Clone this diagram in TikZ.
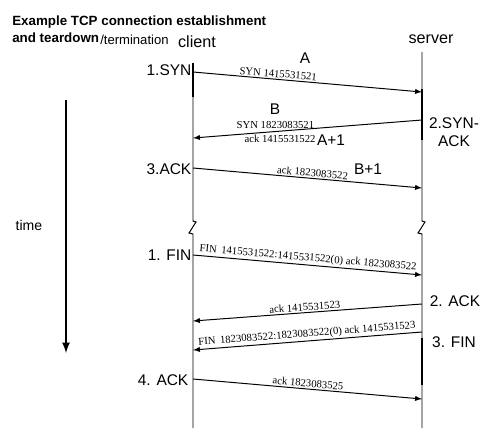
\documentclass[tikz,border=0pt]{standalone}
\usepackage{fontspec}
\setmainfont{Liberation Sans}
\newfontfamily\serifnum{Liberation Serif}
\usetikzlibrary{arrows,positioning}

\begin{document}
\begin{tikzpicture}[
    x=0.025cm, y=-0.025cm,
    font=\fontsize{10}{12}\selectfont,
    ttl/.style={anchor=base west, font=\bfseries\fontsize{9.5}{11}\selectfont, inner sep=0pt},
    host/.style={anchor=base, font=\fontsize{11.5}{13}\selectfont, inner sep=0pt},
    stage/.style={anchor=east, font=\fontsize{11}{13}\selectfont, inner sep=1pt},
    seqno/.style={font=\fontsize{11}{13}\selectfont, inner sep=1pt},
    hdr/.style={font=\serifnum\fontsize{7.6}{9}\selectfont, inner sep=1pt},
    life/.style={black, line width=0.7pt},
    busy/.style={black, line width=1.6pt},
    msg/.style={->, >=latex, black, line width=0.7pt},
]
\useasboundingbox (0,0) rectangle (488,442);
\def\cX{193}
\def\sX{422}

% ---------- title and hosts ----------
\node[ttl] (title1) at (12,25) {Example TCP connection establishment};
\node[ttl] (title2) at (12,42) {and teardown};
\node[anchor=base west, font=\fontsize{9.3}{11}\selectfont, inner sep=0pt] (title3) at (100,44) {/termination};
\node[host] (client) at (\cX+4,47) {client};
\node[host] (server) at (\sX+9,43) {server};

% ---------- lifelines with break ----------
\foreach \lx/\ly in {\cX/63, \sX/52} {
  \draw[life] (\lx,\ly) -- (\lx,221) -- ++(3,1) -- ++(-7,11) -- ++(4,1) -- (\lx,428);
}
\draw[busy] (\cX,63) -- (\cX,97);
\draw[busy] (\sX,89) -- (\sX,140);
\draw[busy] (\sX,338) -- (\sX,385);

% ---------- time ----------
\coordinate (tTop) at (66,100);
\coordinate (tBot) at (66,353);
\draw[->, >=latex, line width=1.5pt] (tTop) -- (tBot);
\node (time) at (29,225) {time};

% ---------- three-way handshake ----------
\coordinate (c1) at (\cX,72);  \coordinate (s1) at (\sX,92);
\coordinate (s2) at (\sX,120); \coordinate (c2) at (\cX,138);
\coordinate (c3) at (\cX,168); \coordinate (s3) at (\sX,188);

\node[stage] (syn) at (\cX,70) {1.SYN};
\draw[msg] (c1) -- node[hdr, above, sloped, pos=0.37] {SYN 1415531521} (s1);
\node[seqno] (numA) at (305,58) {A};

\node[seqno, align=center] (synack) at (454,132) {2.SYN-\\ACK};
\draw[msg] (s2) -- node[hdr, above=1pt, pos=0.64] {SYN 1823083521}
                   node[hdr, below=1.5pt, pos=0.62] {ack 1415531522} (c2);
\node[seqno] (numB) at (275,109) {B};
\node[seqno] (numA1) at (331,140) {A+1};

\node[stage] (ack) at (\cX,169) {3.ACK};
\draw[msg] (c3) -- node[hdr, above, sloped, pos=0.52] {ack 1823083522} (s3);
\node[seqno] (numB1) at (368,169) {B+1};

% ---------- teardown ----------
\coordinate (c4) at (\cX,255); \coordinate (s4) at (\sX,275);
\coordinate (s5) at (\sX,304); \coordinate (c5) at (\cX,321);
\coordinate (s6) at (\sX,332); \coordinate (c6) at (\cX,350);
\coordinate (c7) at (\cX,379); \coordinate (s7) at (\sX,399);

\node[stage] (fin1) at (\cX,255) {1. FIN};
\draw[msg] (c4) -- node[hdr, above, sloped, pos=0.5] {FIN\, 1415531522:1415531522(0) ack 1823083522} (s4);

\node[seqno] (ack2) at (455,301) {2. ACK};
\draw[msg] (s5) -- node[hdr, above, sloped, pos=0.51] {ack 1415531523} (c5);

\node[seqno] (fin3) at (454,342) {3. FIN};
\draw[msg] (s6) -- node[hdr, above, sloped, pos=0.5] {FIN\, 1823083522:1823083522(0) ack 1415531523} (c6);

\node[stage] (ack4) at (\cX-3,380) {4. ACK};
\draw[msg] (c7) -- node[hdr, above, sloped, pos=0.5] {ack 1823083525} (s7);

\end{tikzpicture}
\end{document}
